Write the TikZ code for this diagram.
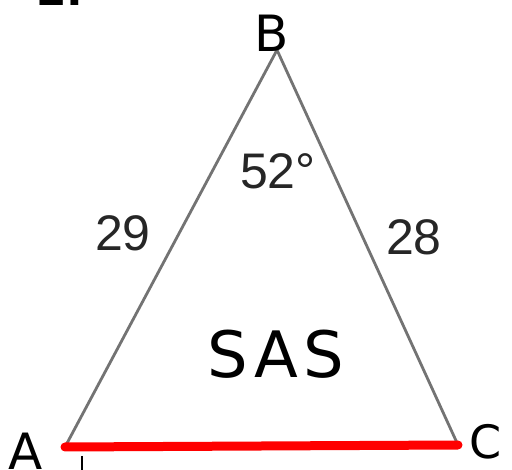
\documentclass[tikz,border=0pt]{standalone}
\usepackage{fontspec}
\setmainfont{Liberation Sans}
\newfontfamily\handfont{DejaVu Sans}
\begin{document}
\begin{tikzpicture}[x=1pt,y=-1pt,
  num/.style={font=\fontsize{50}{54}\selectfont, text=black!85, inner sep=0pt},
  hand/.style={font=\handfont\fontsize{50}{54}\selectfont, inner sep=0pt},
  side/.style={draw=black!55, line width=2.8pt},
  base/.style={draw=red, line width=9pt, line cap=round}]
\useasboundingbox (0,0) rectangle (512,470);
\fill[white] (0,0) rectangle (512,470);
\coordinate (B) at (277,50);
\coordinate (A) at (65,447);
\coordinate (C) at (458,445);
\draw[side] (A) -- (B) -- (C);
\draw[base] (A) -- (C);
\node[hand, anchor=base] (lB) at (272,52) {B};
\node[hand, anchor=base] (lA) at (26,470) {A};
\node[hand, anchor=base, font=\handfont\fontsize{46}{50}\selectfont] (lC) at (486,459) {C};
\node[hand, anchor=base, font=\handfont\fontsize{64}{68}\selectfont\addfontfeature{LetterSpace=8}] (sas) at (276,378) {SAS};
\node[num, anchor=base] (ang) at (278,189) {52°};
\node[num, anchor=base] (s29) at (123,251) {29};
\node[num, anchor=base] (s28) at (414,255) {28};
\node[hand, anchor=base, font=\handfont\bfseries\fontsize{44}{48}\selectfont] (top) at (60,6) {2.};
\draw[line width=2.5pt] (82,456) -- (82,472);
\end{tikzpicture}
\end{document}
